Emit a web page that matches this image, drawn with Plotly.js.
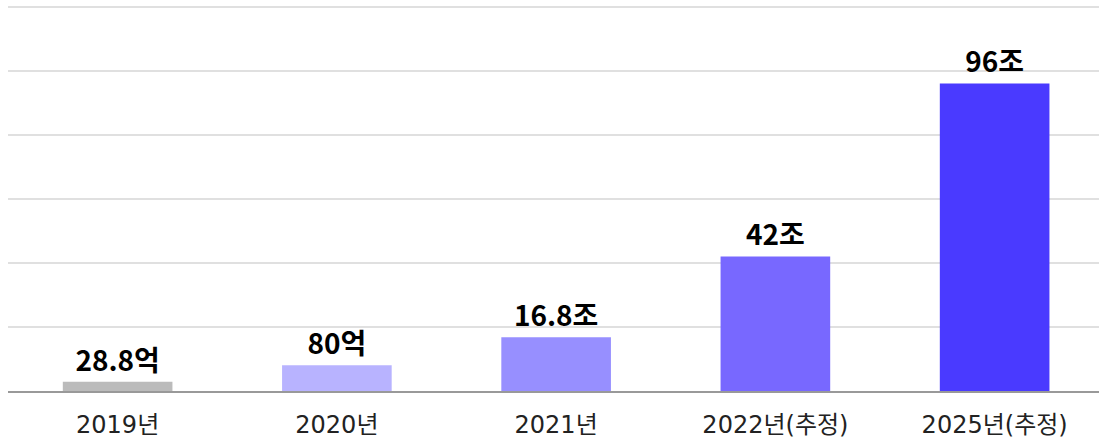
<!DOCTYPE html>
<html>
<head>
<meta charset="utf-8">
<script src="https://cdn.plot.ly/plotly-3.0.1.min.js"></script>
<style>html,body{margin:0;padding:0;background:#fff;}#chart{width:1099px;height:441px;}</style>
</head>
<body>
<div id="chart"></div>
<script>
const categories = ['2019년', '2020년', '2021년', '2022년(추정)', '2025년(추정)'];
const values = [2.88, 8, 16.8, 42, 96];
const valueLabels = ['28.8억', '80억', '16.8조', '42조', '96조'];
const barColors = ['#bbbbbb', '#b8b3ff', '#978fff', '#7868ff', '#4a3aff'];

const trace = {
  type: 'bar',
  x: categories,
  y: values,
  text: valueLabels,
  textposition: 'outside',
  cliponaxis: false,
  textfont: {family: 'Noto Sans CJK KR', size: 28, color: '#000', weight: 'bold'},
  marker: {color: barColors},
  hoverinfo: 'none'
};

const layout = {
  width: 1099,
  height: 441,
  margin: {l: 8, r: 0, t: 4, b: 50},
  paper_bgcolor: '#fff',
  plot_bgcolor: '#fff',
  showlegend: false,
  bargap: 0.5,
  xaxis: {
    type: 'category',
    range: [-0.5, 4.476],
    showgrid: false,
    showline: true,
    linecolor: '#999',
    linewidth: 2,
    ticks: '',
    ticklabelstandoff: 11,
    tickfont: {family: 'DejaVu Sans, Noto Sans CJK KR', size: 24, color: '#222'},
    fixedrange: true
  },
  yaxis: {
    range: [0, 120.78],
    tickvals: [20, 40, 60, 80, 100, 120],
    showgrid: true,
    gridcolor: '#e0e0e0',
    gridwidth: 2,
    zeroline: false,
    showticklabels: false,
    fixedrange: true
  }
};

Plotly.newPlot('chart', [trace], layout, {displayModeBar: false, staticPlot: true});
</script>
</body>
</html>
